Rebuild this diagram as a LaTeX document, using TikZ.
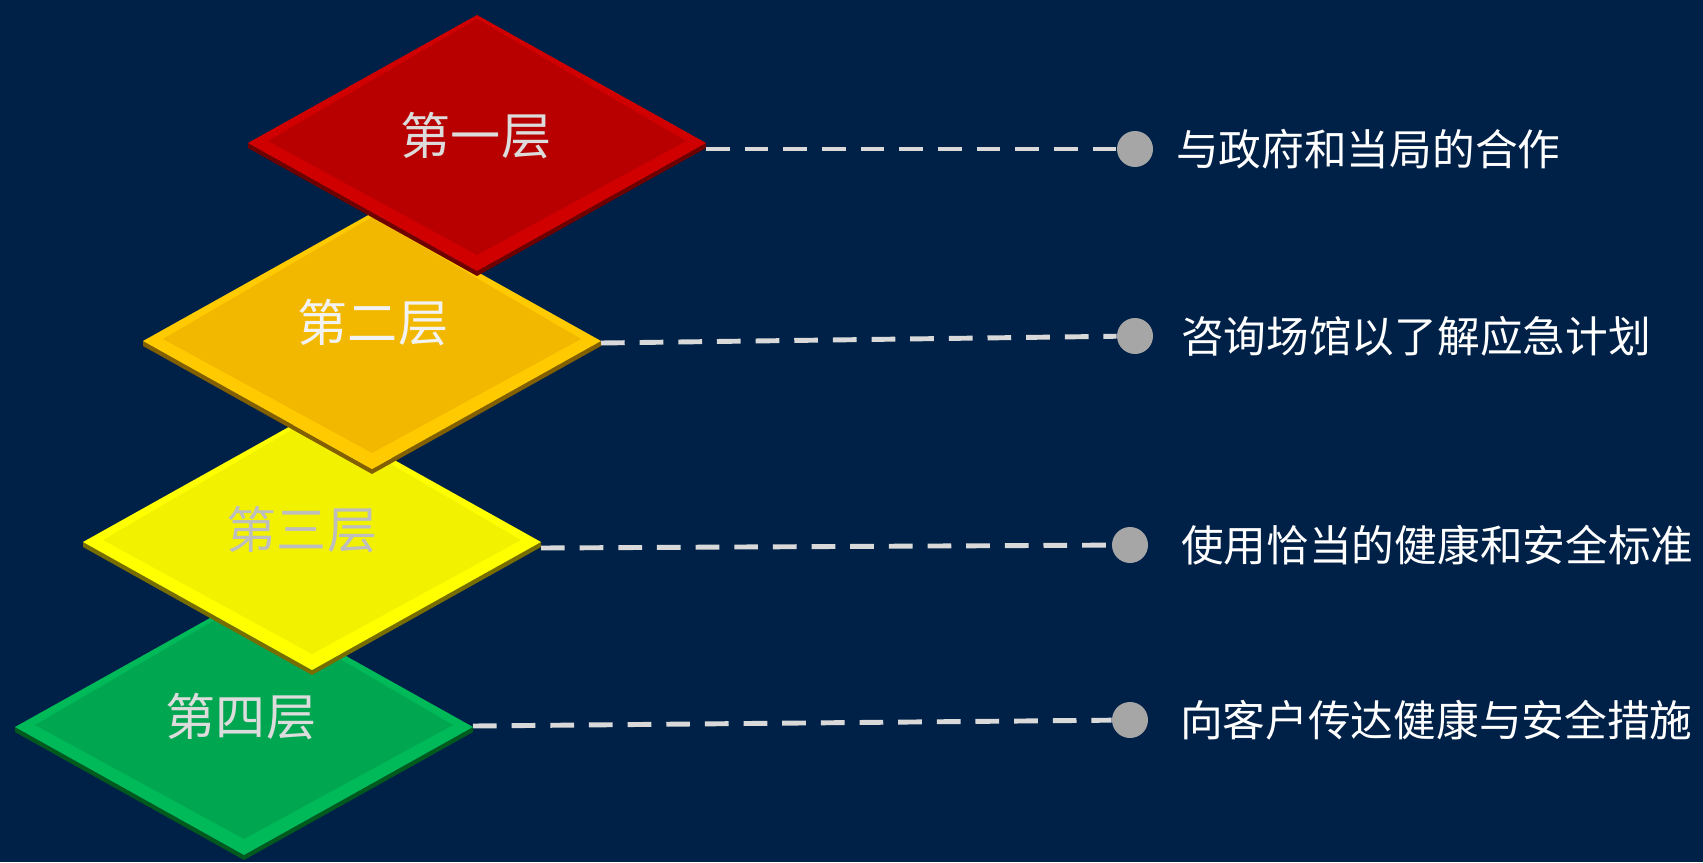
\documentclass[tikz,border=0pt]{standalone}
\usepackage{fontspec}
\setmainfont{Noto Sans CJK SC}
\usetikzlibrary{positioning,calc}

\definecolor{bgnavy}{RGB}{0,33,71}
\definecolor{redface}{RGB}{184,0,0}
\definecolor{redrim}{RGB}{208,0,0}
\definecolor{redslab}{RGB}{110,0,0}
\definecolor{orgface}{RGB}{242,184,0}
\definecolor{orgrim}{RGB}{255,202,0}
\definecolor{orgslab}{RGB}{130,95,0}
\definecolor{yelface}{RGB}{242,242,0}
\definecolor{yelrim}{RGB}{255,255,0}
\definecolor{yelslab}{RGB}{120,110,0}
\definecolor{grnface}{RGB}{0,166,80}
\definecolor{grnrim}{RGB}{0,186,90}
\definecolor{grnslab}{RGB}{0,90,30}
\definecolor{dotgray}{RGB}{166,166,166}
\definecolor{linegray}{RGB}{217,217,217}

\tikzset{
  leader/.style={draw=linegray, line width=2.8pt, dash pattern=on 13.5pt off 8.5pt},
  dotmark/.style={circle, fill=dotgray, minimum size=0.72cm, inner sep=0pt},
  itemtext/.style={text=white, font=\fontsize{24.3}{26}\selectfont, inner sep=0pt},
  layerlabel/.style={font=\fontsize{28.5}{30}\selectfont, inner sep=0pt}
}

\begin{document}
\begin{tikzpicture}[x=0.02cm,y=-0.02cm]

\def\dw{229}
\def\dh{128}
\def\ds{5}

\useasboundingbox (0,0) rectangle (1703,862);
\fill[bgnavy] (0,0) rectangle (1703,862);

% fourth layer
\coordinate (G) at (244,727);
\begin{scope}
  \fill[grnslab] ($(G)+(-\dw,0)$) -- ($(G)+(0,\dh)$) -- ($(G)+(\dw,0)$) -- ++(0,\ds)
        -- ($(G)+(0,\dh+\ds)$) -- ($(G)+(-\dw,\ds)$) -- cycle;
  \fill[grnrim] ($(G)+(-\dw,0)$) -- ($(G)+(0,-\dh)$) -- ($(G)+(\dw,0)$) -- ($(G)+(0,\dh)$) -- cycle;
  \fill[grnface] ($(G)+(-\dw+20,-2)$) -- ($(G)+(0,-\dh+4)$) -- ($(G)+(\dw-20,-2)$) -- ($(G)+(0,\dh-16)$) -- cycle;
  \coordinate (Gr) at ($(G)+(\dw,-1)$);
  \node[layerlabel, text={rgb,255:red,220;green,220;blue,220}] (l4) at (241,717) {第四层};
\end{scope}

% third layer
\coordinate (Y) at (312,542);
\begin{scope}
  \fill[yelslab] ($(Y)+(-\dw,0)$) -- ($(Y)+(0,\dh)$) -- ($(Y)+(\dw,0)$) -- ++(0,\ds)
        -- ($(Y)+(0,\dh+\ds)$) -- ($(Y)+(-\dw,\ds)$) -- cycle;
  \fill[yelrim] ($(Y)+(-\dw,0)$) -- ($(Y)+(0,-\dh)$) -- ($(Y)+(\dw,0)$) -- ($(Y)+(0,\dh)$) -- cycle;
  \fill[yelface] ($(Y)+(-\dw+20,-2)$) -- ($(Y)+(0,-\dh+4)$) -- ($(Y)+(\dw-20,-2)$) -- ($(Y)+(0,\dh-16)$) -- cycle;
  \coordinate (Yr) at ($(Y)+(\dw,6)$);
  \node[layerlabel, text={rgb,255:red,190;green,190;blue,190}] (l3) at (302,530) {第三层};
\end{scope}

% second layer
\coordinate (O) at (372,341);
\begin{scope}
  \fill[orgslab] ($(O)+(-\dw,0)$) -- ($(O)+(0,\dh)$) -- ($(O)+(\dw,0)$) -- ++(0,\ds)
        -- ($(O)+(0,\dh+\ds)$) -- ($(O)+(-\dw,\ds)$) -- cycle;
  \fill[orgrim] ($(O)+(-\dw,0)$) -- ($(O)+(0,-\dh)$) -- ($(O)+(\dw,0)$) -- ($(O)+(0,\dh)$) -- cycle;
  \fill[orgface] ($(O)+(-\dw+20,-2)$) -- ($(O)+(0,-\dh+4)$) -- ($(O)+(\dw-20,-2)$) -- ($(O)+(0,\dh-16)$) -- cycle;
  \coordinate (Or) at ($(O)+(\dw,2)$);
  \node[layerlabel, text={rgb,255:red,242;green,242;blue,242}] (l2) at (373,323) {第二层};
\end{scope}

% first layer
\coordinate (R) at (477,143);
\begin{scope}
  \fill[redslab] ($(R)+(-\dw,0)$) -- ($(R)+(0,\dh)$) -- ($(R)+(\dw,0)$) -- ++(0,\ds)
        -- ($(R)+(0,\dh+\ds)$) -- ($(R)+(-\dw,\ds)$) -- cycle;
  \fill[redrim] ($(R)+(-\dw,0)$) -- ($(R)+(0,-\dh)$) -- ($(R)+(\dw,0)$) -- ($(R)+(0,\dh)$) -- cycle;
  \fill[redface] ($(R)+(-\dw+20,-2)$) -- ($(R)+(0,-\dh+4)$) -- ($(R)+(\dw-20,-2)$) -- ($(R)+(0,\dh-16)$) -- cycle;
  \coordinate (Rr) at ($(R)+(\dw,6)$);
  \node[layerlabel, text={rgb,255:red,220;green,220;blue,220}] (l1) at (476,136) {第一层};
\end{scope}

% dots and items
\node[dotmark] (d1) at (1135,149) {};
\node[dotmark] (d2) at (1135,336) {};
\node[dotmark] (d3) at (1130,545) {};
\node[dotmark] (d4) at (1130,720) {};

\draw[leader] (Rr) -- (d1);
\draw[leader] (Or) -- (d2);
\draw[leader] (Yr) -- (d3);
\draw[leader] (Gr) -- (d4);

\node[itemtext, right=0.45cm of d1] (t1) {与政府和当局的合作};
\node[itemtext, right=0.55cm of d2] (t2) {咨询场馆以了解应急计划};
\node[itemtext, right=0.65cm of d3] (t3) {使用恰当的健康和安全标准};
\node[itemtext, right=0.63cm of d4] (t4) {向客户传达健康与安全措施};

\end{tikzpicture}
\end{document}
